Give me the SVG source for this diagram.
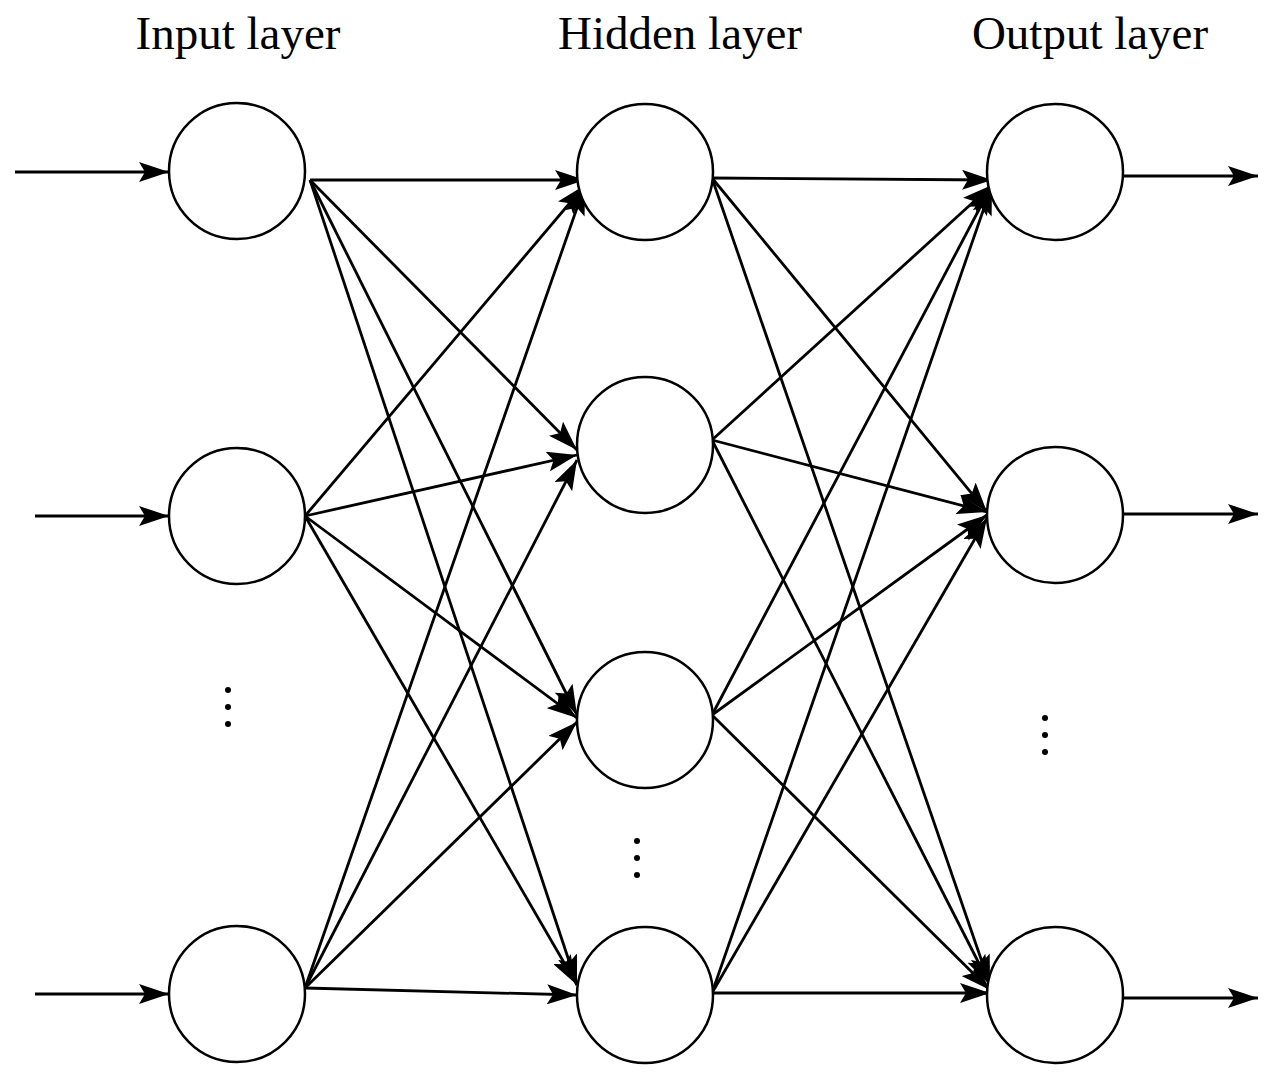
<svg xmlns="http://www.w3.org/2000/svg" width="1274" height="1083" viewBox="0 0 1274 1083">
<style>
.n{fill:#fff;stroke:#000;stroke-width:2.5}
.c line{stroke:#000;stroke-width:2.8;marker-end:url(#b)}
text{font-family:"Liberation Serif",serif;font-size:47px;text-anchor:middle}
.d{fill:#000}
</style>
<defs>
<marker id="b" viewBox="0 0 30 20" refX="30" refY="10" markerWidth="30" markerHeight="20" orient="auto" markerUnits="userSpaceOnUse"><path d="M0,0L30,10L0,20L6,10Z"/></marker></defs>
<rect width="1274" height="1083" fill="#fff"/>
<text x="238" y="49">Input layer</text>
<text x="680" y="49">Hidden layer</text>
<text x="1090" y="49">Output layer</text>
<g class="c" id="connectors">
<line x1="15" y1="172" x2="169" y2="172"/>
<line x1="35" y1="516" x2="169" y2="516"/>
<line x1="35" y1="994" x2="169" y2="994"/>
<line x1="1123" y1="176" x2="1258" y2="176"/>
<line x1="1123" y1="514" x2="1258" y2="514"/>
<line x1="1123" y1="998" x2="1258" y2="998"/>
<line x1="310" y1="180" x2="585" y2="180"/>
<line x1="310" y1="180" x2="577" y2="450"/>
<line x1="310" y1="180" x2="577" y2="715"/>
<line x1="310" y1="180" x2="577" y2="985"/>
<line x1="305" y1="516" x2="585" y2="185"/>
<line x1="305" y1="516" x2="577" y2="455"/>
<line x1="305" y1="516" x2="577" y2="718"/>
<line x1="305" y1="516" x2="577" y2="985"/>
<line x1="305" y1="988" x2="585" y2="185"/>
<line x1="305" y1="988" x2="577" y2="460"/>
<line x1="305" y1="988" x2="577" y2="722"/>
<line x1="305" y1="988" x2="577" y2="995"/>
<line x1="712" y1="178" x2="992" y2="180"/>
<line x1="712" y1="178" x2="987" y2="512"/>
<line x1="712" y1="178" x2="990" y2="985"/>
<line x1="712" y1="440" x2="992" y2="185"/>
<line x1="712" y1="440" x2="987" y2="512"/>
<line x1="712" y1="440" x2="990" y2="985"/>
<line x1="712" y1="715" x2="992" y2="185"/>
<line x1="712" y1="715" x2="987" y2="515"/>
<line x1="712" y1="715" x2="990" y2="990"/>
<line x1="712" y1="993" x2="992" y2="185"/>
<line x1="712" y1="993" x2="987" y2="518"/>
<line x1="712" y1="993" x2="990" y2="993"/>
</g>
<g id="i1"><circle class="n" cx="237" cy="171" r="68"/></g>
<g id="i2"><circle class="n" cx="237" cy="516" r="68"/></g>
<g id="i3"><circle class="n" cx="237" cy="994" r="68"/></g>
<g id="h1"><circle class="n" cx="645" cy="172" r="68"/></g>
<g id="h2"><circle class="n" cx="645" cy="445" r="68"/></g>
<g id="h3"><circle class="n" cx="645" cy="720" r="68"/></g>
<g id="h4"><circle class="n" cx="645" cy="995" r="68"/></g>
<g id="o1"><circle class="n" cx="1055" cy="172" r="68"/></g>
<g id="o2"><circle class="n" cx="1055" cy="515" r="68"/></g>
<g id="o3"><circle class="n" cx="1055" cy="995" r="68"/></g>
<g id="dots" class="d">
<circle cx="228" cy="690" r="3"/><circle cx="228" cy="707" r="3"/><circle cx="228" cy="724" r="3"/>
<circle cx="637" cy="841" r="3"/><circle cx="637" cy="858" r="3"/><circle cx="637" cy="875" r="3"/>
<circle cx="1045" cy="718" r="3"/><circle cx="1045" cy="735" r="3"/><circle cx="1045" cy="752" r="3"/>
</g>
</svg>
